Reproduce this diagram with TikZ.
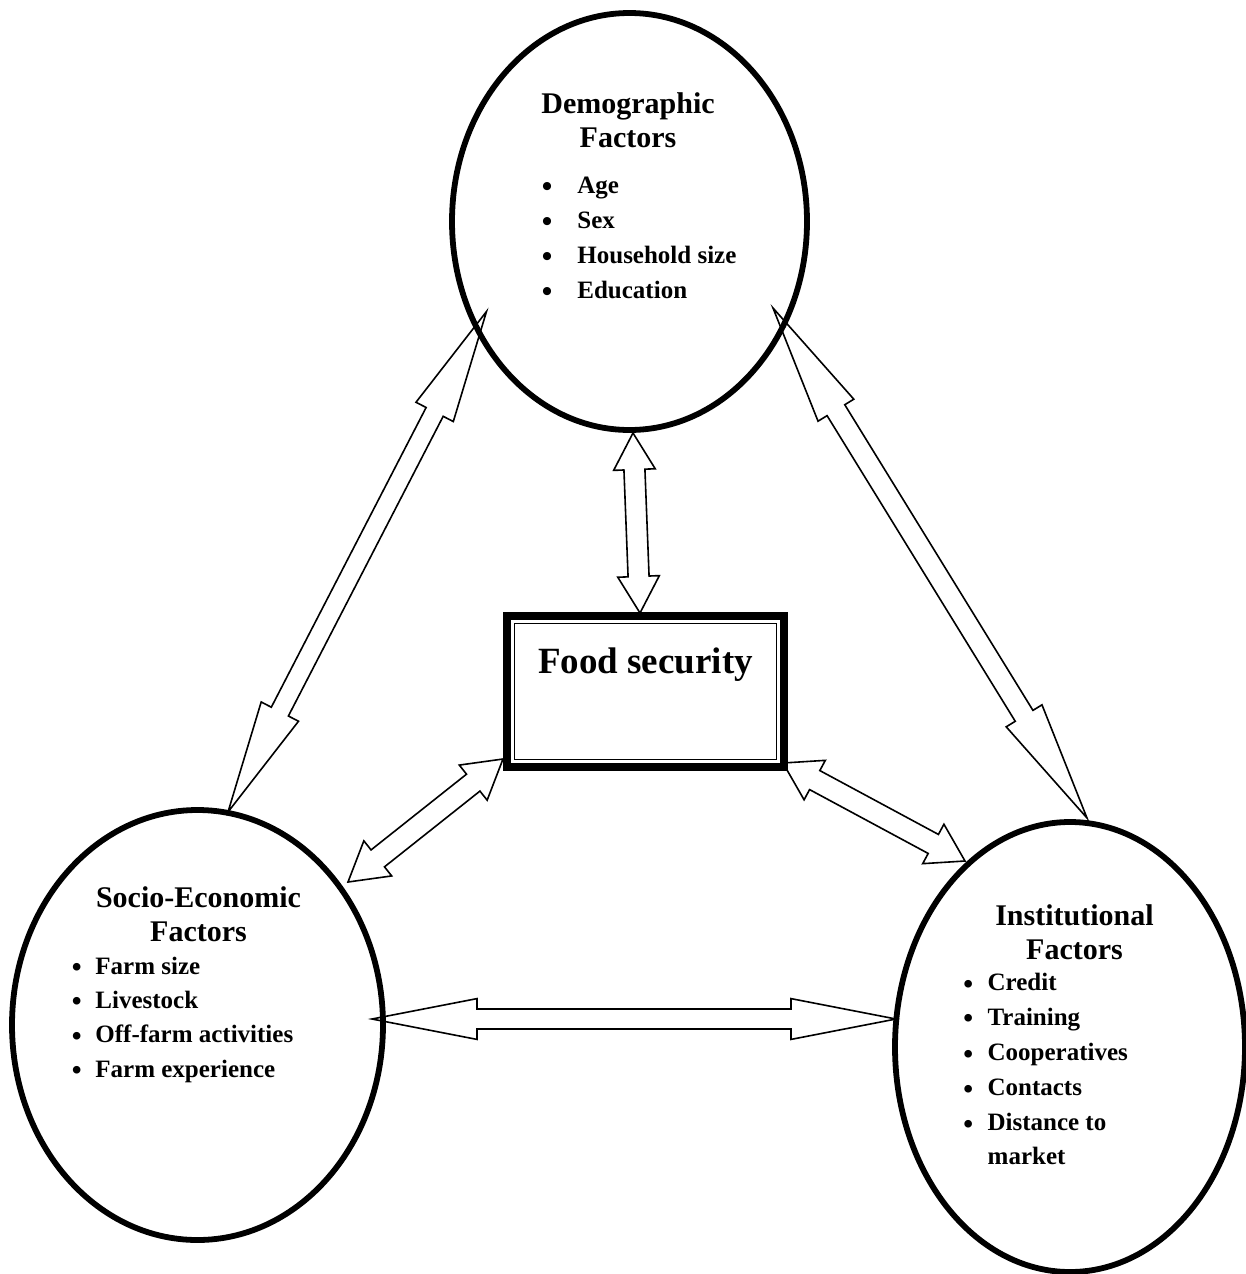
\documentclass[tikz,border=0pt]{standalone}
\usepackage{fontspec}
\setmainfont{Liberation Serif}
\usetikzlibrary{shapes.geometric,calc}
\tikzset{
  factor/.style={ellipse, draw, line width=2.9pt, inner sep=0pt},
  arrowline/.style={draw, line width=0.8pt, line join=miter},
  headtext/.style={font=\fontsize{15}{17}\selectfont\bfseries, anchor=base, inner sep=0pt},
  itemtext/.style={font=\fontsize{12.5}{15}\selectfont\bfseries, anchor=base west, inner sep=0pt},
  fsbox/.style={draw, line width=4pt, outer sep=0pt, inner sep=0pt, minimum width=138.5pt,
    text height=28.5pt, text depth=47pt, font=\fontsize{18.5}{22}\selectfont\bfseries},
}
% #1 box width, #2 bullet size
\newcommand\bul[2]{\makebox[#1][l]{\fontsize{#2}{#2}\selectfont\raisebox{-0.09em}{\textbullet}}}
% #1 tip P, #2 tip Q, #3 head length, #4 head half width, #5 shaft half width
\newcommand\blockarrowtwo[5]{%
  \draw[arrowline] (#1)
    -- ($(#1)!#3!(#2)!#4!90:(#2)$)
    -- ($(#1)!#3!(#2)!#5!90:(#2)$)
    -- ($(#2)!#3!(#1)!#5!-90:(#1)$)
    -- ($(#2)!#3!(#1)!#4!-90:(#1)$)
    -- (#2)
    -- ($(#2)!#3!(#1)!#4!90:(#1)$)
    -- ($(#2)!#3!(#1)!#5!90:(#1)$)
    -- ($(#1)!#3!(#2)!#5!-90:(#2)$)
    -- ($(#1)!#3!(#2)!#4!-90:(#2)$)
    -- cycle;}
\begin{document}
\begin{tikzpicture}[x=0.5pt,y=-0.5pt]
\path[fill=white, use as bounding box] (0,0) rectangle (1246,1274);

% factor ellipses
\node[factor, minimum width=177.5pt, minimum height=208.5pt] (dem) at (629.5,221.5) {};
\node[factor, minimum width=185.5pt, minimum height=215pt] (soc) at (197.5,1025) {};
\node[factor, minimum width=175pt, minimum height=225pt] (inst) at (1070,1047) {};

% food security box
\node[fsbox] (fs) at (645.5,691.5) {Food security};
\draw[line width=0.9pt] ($(fs.north west)+(3.75pt,-3.75pt)$) rectangle ($(fs.south east)+(-3.75pt,3.75pt)$);

% texts: demographic
\node[headtext] (dh1) at (628,113) {Demographic};
\node[headtext] (dh2) at (628,147) {Factors};
\node[itemtext] (d1) at (541.5,193.3) {\bul{17.75pt}{15pt}Age};
\node[itemtext] (d2) at (541.5,228.3) {\bul{17.75pt}{15pt}Sex};
\node[itemtext] (d3) at (541.5,263.3) {\bul{17.75pt}{15pt}Household size};
\node[itemtext] (d4) at (541.5,298.3) {\bul{17.75pt}{15pt}Education};

% texts: socio-economic
\node[headtext] (sh1) at (198.5,907) {Socio-Economic};
\node[headtext] (sh2) at (198.5,941.7) {Factors};
\node[itemtext] (s1) at (71.5,974) {\bul{11.75pt}{14pt}Farm size};
\node[itemtext] (s2) at (71.5,1008.3) {\bul{11.75pt}{14pt}Livestock};
\node[itemtext] (s3) at (71.5,1042.7) {\bul{11.75pt}{14pt}Off-farm activities};
\node[itemtext] (s4) at (71.5,1077.3) {\bul{11.75pt}{14pt}Farm experience};

% texts: institutional
\node[headtext] (ih1) at (1074.5,925) {Institutional};
\node[headtext] (ih2) at (1074.5,959.3) {Factors};
\node[itemtext] (i1) at (963,990.7) {\bul{12.1pt}{14pt}Credit};
\node[itemtext] (i2) at (963,1025) {\bul{12.1pt}{14pt}Training};
\node[itemtext] (i3) at (963,1060.7) {\bul{12.1pt}{14pt}Cooperatives};
\node[itemtext] (i4) at (963,1095.7) {\bul{12.1pt}{14pt}Contacts};
\node[itemtext] (i5) at (963,1130.7) {\bul{12.1pt}{14pt}Distance to};
\node[itemtext] (i6) at (987.3,1164) {market};

% arrow end points
\coordinate (dSW) at ($(dem)+(-143,90)$);
\coordinate (sN)  at ($(soc)+(30.5,-213)$);
\coordinate (dSE) at ($(dem)+(143.5,86.5)$);
\coordinate (iN)  at ($(inst)+(17,-229)$);
\coordinate (dS)  at ($(dem)+(3.5,211.5)$);
\coordinate (fN)  at ($(fs)+(-5.5,-78.5)$);
\coordinate (fSW) at ($(fs)+(-142.5,67.5)$);
\coordinate (sNE) at ($(soc)+(150.5,-143)$);
\coordinate (fSE) at ($(fs)+(137.5,71.5)$);
\coordinate (iNW) at ($(inst)+(-105,-186)$);
\coordinate (sE)  at ($(soc)+(174.5,-6)$);
\coordinate (iW)  at ($(inst)+(-174,-28)$);

% double block arrows
\blockarrowtwo{dSW}{sN}{56.5pt}{10.5pt}{4.8pt}
\blockarrowtwo{dSE}{iN}{60pt}{10.5pt}{5.2pt}
\blockarrowtwo{dS}{fN}{18.3pt}{10.4pt}{5.25pt}
\blockarrowtwo{fSW}{sNE}{19pt}{11.2pt}{5.4pt}
\blockarrowtwo{fSE}{iNW}{18pt}{11.2pt}{5.4pt}
\blockarrowtwo{sE}{iW}{52.5pt}{10.2pt}{5pt}
\end{tikzpicture}
\end{document}
